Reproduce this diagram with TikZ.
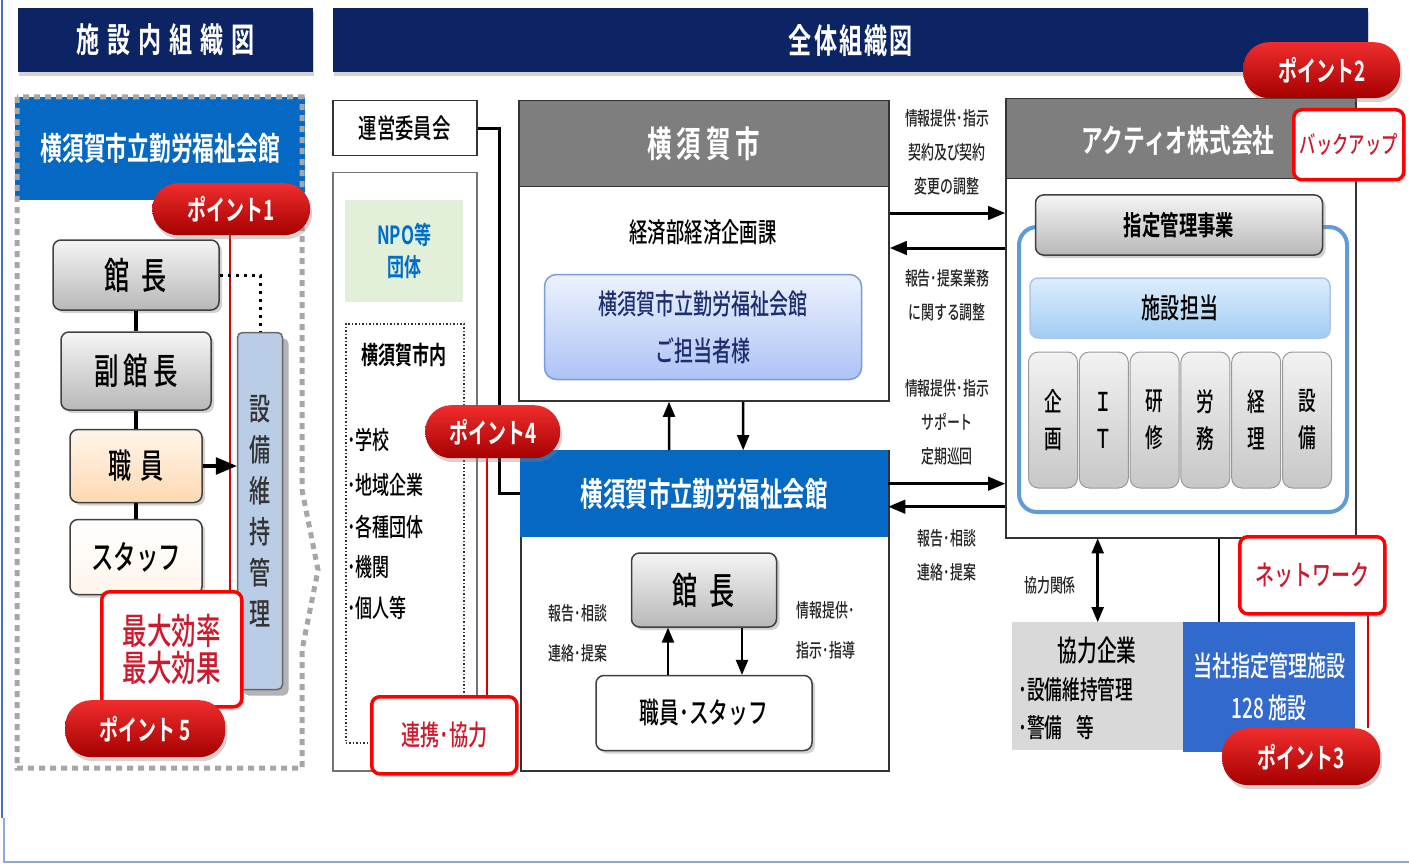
\documentclass[tikz,border=0pt]{standalone}
\usepackage{fontspec}
\setmainfont{Noto Sans CJK JP Medium}[FakeStretch=0.68,BoldFont={Noto Sans CJK JP Bold}]
\usetikzlibrary{arrows,shadows,positioning}

\definecolor{navyhdr}{RGB}{12,35,100}
\definecolor{kaikanblue}{RGB}{5,105,195}
\definecolor{citygray}{RGB}{126,126,126}
\definecolor{pilltop}{RGB}{240,45,45}
\definecolor{pillbot}{RGB}{165,0,0}
\definecolor{setsubiblue}{RGB}{185,205,230}
\definecolor{sheetblue}{RGB}{50,105,205}
\definecolor{npogreen}{RGB}{226,240,218}
\definecolor{npotext}{RGB}{0,110,200}
\definecolor{frameblue}{RGB}{95,155,215}
\definecolor{inktext}{RGB}{30,45,110}
\definecolor{frameln}{RGB}{70,110,200}
\definecolor{tantotop}{RGB}{236,242,253}
\definecolor{tantobot}{RGB}{172,195,245}
\definecolor{tantoln}{RGB}{120,155,225}
\definecolor{shisetsutop}{RGB}{222,237,252}
\definecolor{shisetsubot}{RGB}{160,205,242}
\definecolor{pointtext}{RGB}{205,25,45}

\newcommand\fz[2]{\fontsize{#1}{#2}\selectfont}
\newcommand\gp{\hspace{5pt}}

\tikzset{
  bx/.style={anchor=north west, inner sep=0pt},
  wh/.style 2 args={minimum width=#1, minimum height=#2},
  hdr/.style={bx, fill=navyhdr, text=white, font=\bfseries\fz{34}{34},
    drop shadow={opacity=.35, shadow xshift=1pt, shadow yshift=-4pt}},
  pill/.style={bx, rounded corners=26pt, top color=pilltop, bottom color=pillbot,
    text=white, font=\bfseries\fz{28}{28},
    drop shadow={opacity=.35, shadow xshift=2pt, shadow yshift=-4pt}},
  redbox/.style={bx, draw=red, line width=3.5pt, rounded corners=8pt, fill=white,
    text=pointtext, align=center,
    drop shadow={opacity=.3, shadow xshift=2pt, shadow yshift=-3pt}},
  orgbox/.style={rounded corners=8pt, draw=black!75, line width=1.5pt,
    top color=black!4, bottom color=black!28,
    drop shadow={opacity=.35, shadow xshift=3pt, shadow yshift=-3pt}},
  plain/.style={bx, draw=black!80, line width=1.5pt, fill=white},
  lbl/.style={font=\fz{19}{34}, align=center, text=black!85},
  conn/.style={line width=3pt},
  arr/.style={-triangle 45, line width=3pt},
}

\begin{document}
\begin{tikzpicture}[x=1pt,y=-1pt]
\useasboundingbox (0,0) rectangle (1409,864);
\draw[frameln, line width=2pt] (2,0) -- (2,818);
\draw[frameln!60, line width=2pt] (4,818) -- (4,862) -- (1409,862);

% left: facility chart
\node[hdr, wh={295}{64}] (hdrL) at (18,8) {施\hspace{8pt}設\hspace{8pt}内\hspace{8pt}組\hspace{8pt}織\hspace{8pt}図};
\node[bx, wh={290}{103}, fill=kaikanblue, text=white, font=\bfseries\fz{32}{32}] (kaikanL) at (15,97) {横須賀市立勤労福祉会館};
\draw[gray!70, line width=5pt, dash pattern=on 6pt off 5pt] (17,97) -- (17,768) -- (302,768) -- (302,650) -- (318,570) -- (302,490) -- (302,97) -- cycle;
\draw[red!85!black, line width=2.5pt] (230,235) -- (230,592);

\node[orgbox, wh={166}{70}, font=\fz{37}{37}] (kancho) at (136,275) {館\hspace{12pt}長};
\node[orgbox, wh={150}{78}, font=\fz{36}{36}] (fukukancho) at (136,371) {副\gp 館\gp 長};
\node[orgbox, wh={132}{73}, font=\fz{34}{34}, top color=orange!8, bottom color=orange!30] (shokuin) at (136,466) {職\hspace{8pt}員};
\node[orgbox, wh={132}{75}, font=\fz{33}{33}, top color=white, bottom color=orange!8] (staff) at (136,557) {スタッフ};
\draw[line width=4pt] (kancho.south) -- (fukukancho.north);
\draw[line width=4pt] (fukukancho.south) -- (shokuin.north);
\draw[line width=4pt] (shokuin.south) -- (staff.north);

\node[rounded corners=5pt, fill=setsubiblue, draw=black!60, line width=1.5pt, wh={45}{357},
  align=center, font=\fz{31}{41}, text=black!80,
  drop shadow={opacity=.6, shadow xshift=6pt, shadow yshift=-6pt}] (setsubi) at (260,511) {設\\備\\維\\持\\管\\理};
\draw[line width=3pt, dash pattern=on 3pt off 5pt] (kancho.east) -| (setsubi.north);
\draw[arr, line width=4pt] (shokuin.east) -- (shokuin.east -| setsubi.west);

\node[redbox, wh={140}{115}, font=\fz{36}{37}] (saidai) at (100,590) {最大効率\\最大効果};
\node[pill, wh={160}{57}] (point5) at (65,700) {ポイント 5};
\node[pill, wh={158}{52}] (point1) at (152,183) {ポイント1};

% middle: partners
\node[hdr, wh={1035}{64}] (hdrR) at (333,8) {全\hspace{2pt}体\hspace{2pt}組\hspace{2pt}織\hspace{2pt}図};
\node[plain, wh={144}{55}, font=\fz{27}{27}] (unei) at (332,100) {運営委員会};
\node[plain, wh={144}{598}, draw=black!55] (renkeiwaku) at (332,172) {};
\node[bx, wh={118}{102}, fill=npogreen, text=npotext, align=center, font=\bfseries\fz{25}{32}] (npo) at (345,200) {NPO等\\団体};
\node[bx, wh={118}{419}, draw=black!80, line width=1.5pt, dotted] (shinai) at (345,323) {};
\node[font=\bfseries\fz{25}{25}] (shinaittl) at (404,355) {横須賀市内};
\foreach \y/\t in {440/学校, 485/地域企業, 527/各種団体, 567/機関, 608/個人等}
  \node[anchor=west, inner sep=0pt, font=\fz{25}{25}] (item\y) at (347,\y) {･\t};
\draw[red!85!black, line width=2.5pt] (487,458) -- (487,695);
\node[redbox, wh={145}{77}, font=\fz{28}{28}] (renkei) at (370,695) {連携･協力};

% center: city and kaikan
\node[plain, wh={370}{300}, line width=2pt] (city) at (518,100) {};
\node[bx, wh={370}{86}, fill=citygray, draw=black!80, line width=1.5pt, text=white, font=\bfseries\fz{36}{36}] (cityhdr) at (518,100) {横\gp 須\gp 賀\gp 市};
\node[font=\fz{27}{27}] (keizai) at (703,232) {経済部経済企画課};
\node[rounded corners=12pt, top color=tantotop, bottom color=tantobot, draw=tantoln, line width=1.5pt,
  wh={317}{105}, align=center, text=inktext, font=\fz{28}{47}] (tanto) at (703,327) {横須賀市立勤労福祉会館\\ご担当者様};

\node[plain, wh={368}{320}, line width=2pt] (kaikan) at (520,450) {};
\node[bx, wh={368}{87}, fill=kaikanblue, text=white, font=\bfseries\fz{33}{33}] (kaikanhdr) at (520,450) {横須賀市立勤労福祉会館};
\draw[arr, line width=2.5pt] ([xshift=-35pt]kaikanhdr.north) -- ([xshift=-35pt]city.south);
\draw[arr, line width=2.5pt] ([xshift=39pt]city.south) -- ([xshift=39pt]kaikanhdr.north);

\node[orgbox, wh={145}{74}, font=\fz{37}{37}] (kancho2) at (704,590) {館\hspace{12pt}長};
\node[orgbox, wh={216}{75}, top color=white, bottom color=white, font=\fz{29}{29}] (staff2) at (704,713) {職員･スタッフ};
\draw[arr, line width=2.5pt] ([xshift=-36pt]staff2.north) -- ([xshift=-36pt]kancho2.south);
\draw[arr, line width=2.5pt] ([xshift=38pt]kancho2.south) -- ([xshift=38pt]staff2.north);
\node[lbl, font=\fz{19}{40}] (hokoku2) at (578,633) {報告･相談\\連絡･提案};
\node[lbl, font=\fz{19}{40}] (shiji2) at (826,630) {情報提供･\\指示･指導};

\draw[conn] (unei.east) -- ++(22,0) |- (kaikanhdr.west);

% right: actio
\node[plain, wh={350}{439}] (actio) at (1005,98) {};
\node[bx, wh={350}{80}, fill=citygray, draw=black!80, line width=1.5pt] (actiohdr) at (1005,98) {};
\node[text=white, font=\bfseries\fz{32}{32}] (actiottl) at (1178,140) {アクティオ株式会社};
\node[bx, wh={328}{285}, draw=frameblue, line width=4pt, rounded corners=18pt] (gyomu) at (1017,225) {};
\node[orgbox, wh={287}{60}, font=\bfseries\fz{27}{27}] (shitei) at (1179,225) {指定管理事業};
\node[rounded corners=8pt, top color=shisetsutop, bottom color=shisetsubot, draw=tantoln!60, line width=1.5pt,
  wh={300}{60}, font=\fz{28}{28}] (shisetsu) at (1180,308) {施設担当};
\foreach \i/\t in {0/企\\画, 1/Ｉ\\Ｔ, 2/研\\修, 3/労\\務, 4/経\\理, 5/設\\備}
  \node[rounded corners=10pt, top color=black!5, bottom color=black!22, draw=black!40, line width=1pt,
    wh={49}{136}, align=center, font=\fz{26}{37}] (bu\i) at (1053+\i*50.8,420) {\t};

\coordinate (c1) at ([yshift=38pt]city.east);
\coordinate (c2) at ([yshift=3pt]city.east);
\coordinate (k1) at ([yshift=10pt]kaikanhdr.east);
\coordinate (k2) at ([yshift=-13pt]kaikanhdr.east);
\draw[arr] (c1) -- (c1 -| actio.west);
\draw[arr] (c2 -| actio.west) -- (c2);
\draw[arr] (k1) -- (k1 -| actio.west);
\draw[arr] (k2 -| actio.west) -- (k2);
\node[lbl] (shiji1) at (947,152) {情報提供･指示\\契約及び契約\\変更の調整};
\node[lbl] (hokoku1) at (947,295) {報告･提案業務\\に関する調整};
\node[lbl] (shiji3) at (947,422) {情報提供･指示\\サポート\\定期巡回};
\node[lbl] (hokoku3) at (947,555) {報告･相談\\連絡･提案};

\node[bx, wh={171}{128}, fill=black!15] (kyoryoku) at (1012,622) {};
\node[font=\fz{29}{29}] (kyoryokuttl) at (1097,650) {協力企業};
\node[anchor=west, inner sep=0pt, font=\fz{26}{26}] (kyo1) at (1018,690) {･設備維持管理};
\node[anchor=west, inner sep=0pt, font=\fz{26}{26}] (kyo2) at (1018,728) {･警備\hspace{14pt}等};
\node[bx, wh={172}{130}, fill=sheetblue, text=white, align=center, font=\fz{28}{42}] (tosha) at (1183,622) {当社指定管理施設\\128 施設};
\draw[triangle 45-triangle 45, line width=2.5pt] (kyoryoku.north |- actio.south) -- (kyoryoku.north);
\node[lbl] (kankei) at (1050,585) {協力関係};
\draw[conn, line width=2.5pt] ([xshift=38pt]actio.south) -- ([xshift=38pt]actio.south |- tosha.north);

\node[redbox, wh={110}{70}, font=\fz{24}{24}] (backup) at (1292,108) {バックアップ};
\draw[red!85!black, line width=2.5pt] (1368,612) -- (1368,728);
\node[redbox, wh={145}{77}, font=\fz{28}{28}] (network) at (1238,535) {ネットワーク};
\node[pill, wh={158}{57}] (point3) at (1222,728) {ポイント3};
\node[pill, wh={157}{56}] (point2) at (1243,42) {ポイント2};
\node[pill, wh={135}{53}] (point4) at (425,405) {ポイント4};
\end{tikzpicture}
\end{document}
